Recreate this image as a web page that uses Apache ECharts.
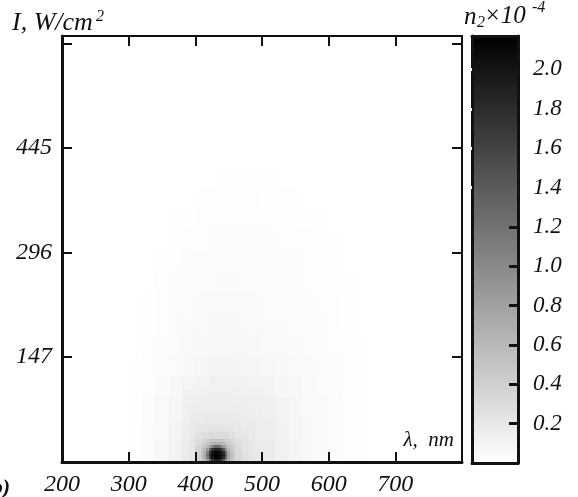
<!DOCTYPE html>
<html>
<head>
<meta charset="utf-8">
<script src="https://cdn.jsdelivr.net/npm/echarts@6/dist/echarts.min.js"></script>
<style>html,body{margin:0;padding:0;background:#fff}#c{width:578px;height:497px}</style>
</head>
<body>
<div id="c"></div>
<script>
// ---- axis ticks / labels ----
const xTicks = [300, 400, 500, 600, 700];
const xLabels = [200, 300, 400, 500, 600, 700];
const yTicks = [147, 296, 445, 594];
const yLabels = [147, 296, 445];
const cbMax = 2.17;
const cbTicksDark = [0.2, 0.4, 0.6, 0.8, 1.0, 1.2];
const cbTicksLight = [1.4, 1.6, 1.8, 2.0];
const cbLabels = [0.2, 0.4, 0.6, 0.8, 1.0, 1.2, 1.4, 1.6, 1.8, 2.0];

// ---- coarse halo grid: lambda (nm) cell edges, I (W/cm2) cell edges, n2 (x1e-4) ----
const coarseLambda = [300, 320, 340, 360, 380, 400, 420, 440, 460, 480, 500, 520, 540, 560, 580, 600, 620, 640, 660];
const coarseI = [-3, 30, 60, 90, 120, 150, 180, 210, 240, 270, 300, 330, 360, 390, 420];
const coarseValues = [
  [0.01, 0.03, 0.06, 0.10, 0.15, 0.30, 0.50, 0.50, 0.35, 0.25, 0.17, 0.12, 0.085, 0.06, 0.045, 0.03, 0.02, 0.01],
  [0.01, 0.03, 0.055, 0.09, 0.15, 0.22, 0.26, 0.26, 0.22, 0.19, 0.15, 0.11, 0.08, 0.06, 0.045, 0.03, 0.02, 0.01],
  [0.01, 0.025, 0.05, 0.08, 0.13, 0.15, 0.16, 0.16, 0.15, 0.14, 0.13, 0.10, 0.075, 0.055, 0.04, 0.03, 0.02, 0.01],
  [0.01, 0.02, 0.04, 0.06, 0.085, 0.105, 0.115, 0.115, 0.11, 0.10, 0.10, 0.08, 0.065, 0.05, 0.038, 0.028, 0.018, 0.008],
  [0.008, 0.019, 0.031, 0.046, 0.062, 0.08, 0.09, 0.09, 0.085, 0.078, 0.07, 0.06, 0.05, 0.04, 0.032, 0.024, 0.016, 0.007],
  [0.004, 0.014, 0.026, 0.037, 0.05, 0.06, 0.07, 0.07, 0.066, 0.06, 0.054, 0.047, 0.04, 0.034, 0.027, 0.02, 0.014, 0.006],
  [0, 0.011, 0.021, 0.032, 0.043, 0.052, 0.058, 0.058, 0.054, 0.05, 0.044, 0.039, 0.034, 0.028, 0.022, 0.016, 0.012, 0.004],
  [0, 0.005, 0.017, 0.027, 0.035, 0.043, 0.048, 0.048, 0.045, 0.041, 0.037, 0.033, 0.03, 0.025, 0.019, 0.014, 0.01, 0],
  [0, 0, 0.013, 0.022, 0.031, 0.036, 0.04, 0.04, 0.038, 0.035, 0.033, 0.03, 0.026, 0.021, 0.016, 0.012, 0.007, 0],
  [0, 0, 0.01, 0.017, 0.024, 0.03, 0.033, 0.033, 0.032, 0.031, 0.028, 0.025, 0.022, 0.018, 0.014, 0.01, 0.004, 0],
  [0, 0, 0.004, 0.011, 0.016, 0.021, 0.025, 0.026, 0.026, 0.025, 0.022, 0.019, 0.016, 0.013, 0.01, 0.005, 0, 0],
  [0, 0, 0, 0.005, 0.01, 0.014, 0.018, 0.019, 0.019, 0.018, 0.016, 0.014, 0.012, 0.01, 0.005, 0, 0, 0],
  [0, 0, 0, 0, 0.004, 0.01, 0.012, 0.013, 0.013, 0.013, 0.012, 0.01, 0.007, 0.004, 0, 0, 0, 0],
  [0, 0, 0, 0, 0, 0, 0.003, 0.005, 0.007, 0.007, 0.005, 0.003, 0, 0, 0, 0, 0, 0]
];

// ---- mid grid around the peak ----
const midLambda = [380, 390, 400, 410, 420, 430, 440, 450, 460, 470, 480, 490, 500];
const midI = [-3, 10, 20, 30, 40, 50, 60, 70, 80, 90, 100];
const midValues = [
  [0.17, 0.22, 0.39, 0.78, 2.00, 2.14, 1.52, 0.51, 0.32, 0.245, 0.20, 0.18],
  [0.17, 0.21, 0.37, 0.63, 1.63, 1.90, 1.00, 0.47, 0.305, 0.24, 0.20, 0.18],
  [0.16, 0.20, 0.30, 0.39, 0.52, 0.57, 0.46, 0.34, 0.27, 0.22, 0.19, 0.17],
  [0.15, 0.19, 0.245, 0.28, 0.31, 0.31, 0.295, 0.26, 0.22, 0.20, 0.18, 0.165],
  [0.15, 0.17, 0.20, 0.215, 0.23, 0.23, 0.22, 0.21, 0.195, 0.18, 0.167, 0.158],
  [0.14, 0.16, 0.178, 0.188, 0.192, 0.193, 0.19, 0.184, 0.174, 0.165, 0.158, 0.15],
  [0.13, 0.15, 0.162, 0.166, 0.168, 0.168, 0.167, 0.164, 0.16, 0.154, 0.148, 0.142],
  [0.125, 0.14, 0.149, 0.152, 0.154, 0.154, 0.153, 0.15, 0.148, 0.144, 0.14, 0.135],
  [0.12, 0.13, 0.14, 0.142, 0.143, 0.143, 0.143, 0.141, 0.139, 0.136, 0.132, 0.128],
  [0.11, 0.12, 0.131, 0.133, 0.134, 0.134, 0.134, 0.132, 0.13, 0.126, 0.122, 0.12]
];

// ---- fine grid at the core ----
const fineLambda = [408, 412, 416, 420, 424, 428, 432, 436, 440, 444, 448, 452, 456, 460];
const fineI = [-3, 1, 5, 9, 13, 17, 21, 25, 29];
const fineValues = [
  [0.47, 0.59, 0.83, 1.30, 1.72, 1.90, 1.91, 1.78, 1.42, 0.92, 0.63, 0.49, 0.40],
  [0.50, 0.68, 1.09, 1.70, 2.00, 2.10, 2.11, 2.03, 1.81, 1.27, 0.74, 0.54, 0.43],
  [0.52, 0.71, 1.21, 1.82, 2.06, 2.15, 2.16, 2.09, 1.91, 1.39, 0.80, 0.56, 0.44],
  [0.50, 0.68, 1.09, 1.70, 2.00, 2.10, 2.11, 2.03, 1.81, 1.27, 0.74, 0.54, 0.43],
  [0.47, 0.59, 0.83, 1.30, 1.72, 1.90, 1.91, 1.78, 1.42, 0.92, 0.63, 0.49, 0.40],
  [0.41, 0.50, 0.61, 0.80, 1.05, 1.28, 1.29, 1.12, 0.86, 0.65, 0.52, 0.44, 0.37],
  [0.36, 0.42, 0.48, 0.56, 0.63, 0.68, 0.69, 0.65, 0.58, 0.50, 0.44, 0.38, 0.33],
  [0.32, 0.35, 0.39, 0.43, 0.47, 0.48, 0.49, 0.47, 0.44, 0.40, 0.36, 0.33, 0.30]
];

function cells(lam, iv, vals, layer) {
  const out = [];
  for (let r = 0; r < vals.length; r++) {
    for (let c = 0; c < vals[r].length; c++) {
      if (vals[r][c] > 0) out.push([lam[c], lam[c + 1], iv[r], iv[r + 1], vals[r][c], layer]);
    }
  }
  return out;
}
const heatData = [].concat(
  cells(coarseLambda, coarseI, coarseValues, 0),
  cells(midLambda, midI, midValues, 1),
  cells(fineLambda, fineI, fineValues, 2)
);

const FONT = "'Liberation Serif', 'Times New Roman', serif";
const INK = '#111';
const labelStyle = { fontFamily: FONT, fontStyle: 'italic', fontSize: 24, color: INK };

function txt(x, y, text, size, align, extra) {
  return { type: 'text', x: x, y: y, z: 10,
    style: Object.assign({ text: text, fontFamily: FONT, fontStyle: 'italic', fontSize: size,
      fill: INK, align: align || 'left', verticalAlign: 'middle' }, extra || {}) };
}

const chart = echarts.init(document.getElementById('c'), null, { renderer: 'canvas' });
chart.setOption({
  animation: false,
  backgroundColor: '#fff',
  grid: [
    { left: 62, top: 36, width: 400, height: 428, containLabel: false },
    { left: 472, top: 36, width: 46, height: 427, containLabel: false }
  ],
  visualMap: {
    type: 'continuous', show: false, seriesIndex: 0, dimension: 4,
    min: 0, max: cbMax, inRange: { color: ['#ffffff', '#000000'] }
  },
  xAxis: [
    { gridIndex: 0, type: 'value', min: 200, max: 800, position: 'bottom', z: 3,
      axisLine: { onZero: false, lineStyle: { color: INK, width: 3 } },
      axisTick: { inside: true, length: 10, customValues: xTicks, lineStyle: { color: INK, width: 2 } },
      axisLabel: Object.assign({ customValues: xLabels, margin: 11 }, labelStyle),
      splitLine: { show: false } },
    { gridIndex: 0, type: 'value', min: 200, max: 800, position: 'top', z: 3,
      axisLine: { onZero: false, lineStyle: { color: INK, width: 2 } },
      axisTick: { inside: true, length: 10, customValues: xTicks, lineStyle: { color: INK, width: 2 } },
      axisLabel: { show: false }, splitLine: { show: false } },
    { gridIndex: 1, type: 'value', min: 0, max: 1, position: 'bottom', z: 3,
      axisLine: { onZero: false, lineStyle: { color: INK, width: 3 } },
      axisTick: { show: false }, axisLabel: { show: false }, splitLine: { show: false } },
    { gridIndex: 1, type: 'value', min: 0, max: 1, position: 'top', z: 3,
      axisLine: { onZero: false, lineStyle: { color: INK, width: 3 } },
      axisTick: { show: false }, axisLabel: { show: false }, splitLine: { show: false } }
  ],
  yAxis: [
    { gridIndex: 0, type: 'value', min: -3, max: 605, position: 'left', z: 3,
      axisLine: { onZero: false, lineStyle: { color: INK, width: 3 } },
      axisTick: { inside: true, length: 10, customValues: yTicks, lineStyle: { color: INK, width: 2 } },
      axisLabel: Object.assign({ customValues: yLabels, margin: 10 }, labelStyle),
      splitLine: { show: false } },
    { gridIndex: 0, type: 'value', min: -3, max: 605, position: 'right', z: 3,
      axisLine: { onZero: false, lineStyle: { color: INK, width: 2 } },
      axisTick: { inside: true, length: 10, customValues: yTicks, lineStyle: { color: INK, width: 2 } },
      axisLabel: { show: false }, splitLine: { show: false } },
    { gridIndex: 1, type: 'value', min: 0, max: cbMax, position: 'left', z: 3,
      axisLine: { onZero: false, lineStyle: { color: INK, width: 3 } },
      axisTick: { show: false }, axisLabel: { show: false }, splitLine: { show: false } },
    { gridIndex: 1, type: 'value', min: 0, max: cbMax, position: 'right', z: 3,
      axisLine: { onZero: false, lineStyle: { color: INK, width: 3 } },
      axisTick: { inside: true, length: 9, customValues: cbTicksDark, lineStyle: { color: INK, width: 3 } },
      axisLabel: { customValues: cbLabels, margin: 15, fontSize: 23, fontFamily: FONT, fontStyle: 'italic', color: INK,
        formatter: v => Number(v).toFixed(1) },
      splitLine: { show: false } },
    { gridIndex: 1, type: 'value', min: 0, max: cbMax, position: 'right', z: 4,
      axisLine: { show: false },
      axisTick: { inside: true, length: 9, customValues: cbTicksLight, lineStyle: { color: '#fff', width: 3 } },
      axisLabel: { show: false }, splitLine: { show: false } }
  ],
  series: [
    {
      type: 'custom', xAxisIndex: 0, yAxisIndex: 0, clip: true,
      encode: { x: [0, 1], y: [2, 3] },
      data: heatData,
      renderItem: function (params, api) {
        const p0 = api.coord([api.value(0), api.value(2)]);
        const p1 = api.coord([api.value(1), api.value(3)]);
        const x0 = Math.round(p0[0]), x1 = Math.round(p1[0]);
        const yb = Math.round(p0[1]), yt = Math.round(p1[1]);
        return {
          type: 'rect', z2: api.value(5),
          shape: { x: x0, y: yt, width: x1 - x0, height: yb - yt },
          style: { fill: api.visual('color'), stroke: null }
        };
      }
    },
    {
      type: 'custom', xAxisIndex: 2, yAxisIndex: 2,
      data: [[0, 1, 0, cbMax]],
      renderItem: function (params, api) {
        const p0 = api.coord([api.value(0), api.value(2)]);
        const p1 = api.coord([api.value(1), api.value(3)]);
        return {
          type: 'rect',
          shape: { x: p0[0], y: p1[1], width: p1[0] - p0[0], height: p0[1] - p1[1] },
          style: {
            fill: new echarts.graphic.LinearGradient(0, 1, 0, 0, [
              { offset: 0, color: '#ffffff' }, { offset: 1, color: '#000000' }
            ])
          }
        };
      }
    }
  ],
  graphic: [
    txt(12, 23, 'I, W/cm', 26),
    txt(96, 17, '2', 16),
    txt(464, 17, 'n', 25),
    txt(477, 23, '2', 16),
    txt(484, 16, '×10', 25),
    txt(532, 8, '-4', 16),
    txt(454, 440, 'λ,  nm', 21, 'right'),
    txt(10, 488, 'b)', 22, 'right', { fontWeight: 'bold' })
  ]
});
</script>
</body>
</html>
